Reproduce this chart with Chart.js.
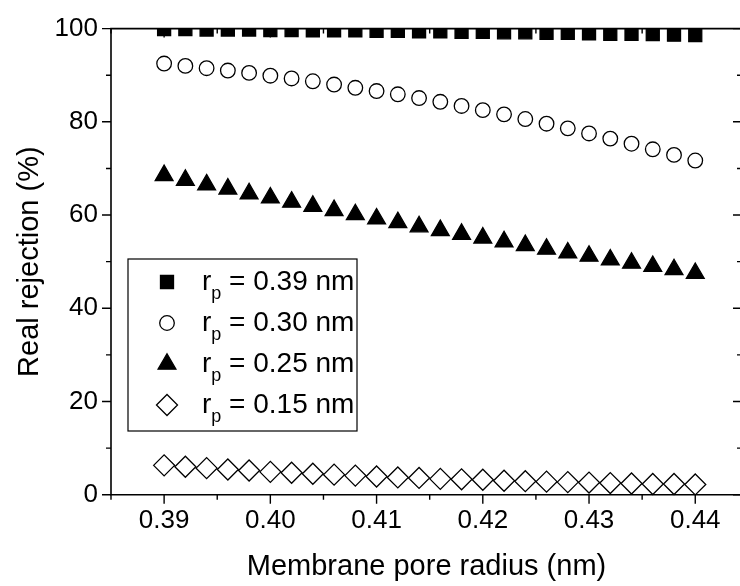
<!DOCTYPE html>
<html>
<head>
<meta charset="utf-8">
<script src="https://cdn.jsdelivr.net/npm/chart.js@4.4.0/dist/chart.umd.min.js"></script>
<style>
	html, body { margin: 0; padding: 0; background: #fff; overflow: hidden; }
	#wrap { width: 746px; height: 586px; }
</style>
</head>
<body>
<div id="wrap"><canvas id="rejChart" width="746" height="586"></canvas></div>
<script>
'use strict';

// membrane pore radius (nm)
const poreRadius = [0.390, 0.392, 0.394, 0.396, 0.398, 0.400, 0.402, 0.404, 0.406, 0.408, 0.410, 0.412, 0.414,
	0.416, 0.418, 0.420, 0.422, 0.424, 0.426, 0.428, 0.430, 0.432, 0.434, 0.436, 0.438, 0.440];

// real rejection (%) for each solute radius
const rej039 = [99.9, 99.9, 99.8, 99.8, 99.8, 99.7, 99.7, 99.6, 99.6, 99.6, 99.5, 99.5, 99.4,
	99.4, 99.3, 99.3, 99.2, 99.2, 99.1, 99.1, 99.0, 98.9, 98.9, 98.8, 98.7, 98.6];
const rej030 = [92.5, 92.0, 91.5, 91.0, 90.5, 89.9, 89.3, 88.7, 88.0, 87.3, 86.6, 85.9, 85.1,
	84.3, 83.4, 82.5, 81.6, 80.6, 79.6, 78.6, 77.5, 76.4, 75.3, 74.1, 72.9, 71.7];
const rej025 = [68.5, 67.5, 66.5, 65.6, 64.6, 63.7, 62.8, 61.9, 61.0, 60.1, 59.2, 58.4, 57.5,
	56.7, 55.9, 55.1, 54.3, 53.5, 52.7, 51.9, 51.2, 50.4, 49.7, 49.0, 48.3, 47.5];
const rej015 = [6.3, 6.0, 5.7, 5.4, 5.2, 4.9, 4.7, 4.5, 4.3, 4.1, 3.9, 3.7, 3.6,
	3.4, 3.3, 3.2, 3.0, 2.9, 2.8, 2.7, 2.6, 2.5, 2.4, 2.3, 2.3, 2.2];

const soluteRadius = ['0.39', '0.30', '0.25', '0.15'];

const xMajorTicks = [0.39, 0.40, 0.41, 0.42, 0.43, 0.44];
const xMinorTicks = [0.385, 0.395, 0.405, 0.415, 0.425, 0.435];
const yMajorTicks = [0, 20, 40, 60, 80, 100];
const yMinorTicks = [10, 30, 50, 70, 90];

const FONT = '"Liberation Sans", Arial, sans-serif';

function toPoints(_values) {
	return poreRadius.map((x, i) => ({ x: x, y: _values[i] }));
}

function makeDataSet(_values, _idx, _style, _radius, _filled) {
	return {
		label: `r_p = ${soluteRadius[_idx]} nm`,
		data: toPoints(_values),
		showLine: false,
		pointStyle: _style,
		pointRadius: _radius,
		pointHoverRadius: _radius,
		pointBorderWidth: 1.3,
		pointBorderColor: '#000',
		pointBackgroundColor: _filled ? '#000' : '#fff',
		clip: { left: 20, top: 0, right: 20, bottom: 20 },
	};
}

// frame with outward ticks on bottom/left and inward ticks on top/right
const axisFrame = {
	id: 'axisFrame',
	beforeDatasetsDraw(chart) {
		const { ctx, chartArea: a, scales: { x, y } } = chart;
		ctx.save();
		ctx.strokeStyle = '#000';
		ctx.lineWidth = 1.6;
		ctx.beginPath();
		ctx.rect(a.left, a.top, a.right - a.left, a.bottom - a.top);
		ctx.stroke();
		ctx.lineWidth = 1.4;
		ctx.beginPath();
		const xTick = (v, len) => {
			const px = x.getPixelForValue(v);
			ctx.moveTo(px, a.bottom); ctx.lineTo(px, a.bottom + len);
			ctx.moveTo(px, a.top); ctx.lineTo(px, a.top + len);
		};
		const yTick = (v, len) => {
			const py = y.getPixelForValue(v);
			ctx.moveTo(a.left, py); ctx.lineTo(a.left - len, py);
			ctx.moveTo(a.right, py); ctx.lineTo(a.right - len, py);
		};
		xMajorTicks.forEach((v) => xTick(v, 9));
		xMinorTicks.forEach((v) => xTick(v, 5));
		yMajorTicks.forEach((v) => yTick(v, 9));
		yMinorTicks.forEach((v) => yTick(v, 5));
		ctx.stroke();
		ctx.restore();
	},
};

// boxed legend with subscripted r_p
const subLegend = {
	id: 'subLegend',
	afterDraw(chart, args, opts) {
		const ctx = chart.ctx;
		ctx.save();
		ctx.strokeStyle = '#000';
		ctx.lineWidth = 1.2;
		ctx.strokeRect(opts.left, opts.top, opts.width, opts.height);
		chart.data.datasets.forEach((ds, i) => {
			const rowY = opts.top + opts.firstRow + i * opts.rowGap;
			ctx.fillStyle = ds.pointBackgroundColor;
			ctx.strokeStyle = ds.pointBorderColor;
			ctx.lineWidth = ds.pointBorderWidth;
			Chart.helpers.drawPoint(ctx, {
				pointStyle: ds.pointStyle,
				radius: ds.pointRadius,
				borderWidth: ds.pointBorderWidth,
				rotation: 0,
			}, opts.markerX, rowY);

			ctx.fillStyle = '#000';
			ctx.textBaseline = 'middle';
			ctx.textAlign = 'left';
			let tx = opts.textX;
			ctx.font = `28px ${FONT}`;
			ctx.fillText('r', tx, rowY);
			tx += ctx.measureText('r').width;
			ctx.font = `18px ${FONT}`;
			ctx.fillText('p', tx, rowY + 12);
			tx += ctx.measureText('p').width;
			ctx.font = `28px ${FONT}`;
			ctx.fillText(` = ${soluteRadius[i]} nm`, tx, rowY);
		});
		ctx.restore();
	},
};

const rejChart = new Chart(document.getElementById('rejChart'), {
	type: 'scatter',
	data: {
		datasets: [
			makeDataSet(rej039, 0, 'rect', 9.2, true),
			makeDataSet(rej030, 1, 'circle', 7.3, false),
			makeDataSet(rej025, 2, 'triangle', 10.3, true),
			makeDataSet(rej015, 3, 'rectRot', 10.5, false),
		],
	},
	options: {
		responsive: false,
		devicePixelRatio: 1,
		animation: false,
		events: [],
		layout: { autoPadding: false, padding: { top: 24, right: 4, left: 0, bottom: 0 } },
		scales: {
			x: {
				type: 'linear',
				min: 0.385,
				max: 0.4444,
				afterBuildTicks(scale) {
					scale.ticks = xMajorTicks.map((v) => ({ value: v }));
				},
				afterFit(scale) {
					scale.height = 91.3;
				},
				grid: { display: false, drawTicks: false, tickLength: 0 },
				border: { display: false },
				ticks: {
					padding: 11,
					color: '#000',
					maxRotation: 0,
					font: { family: FONT, size: 26 },
					callback: (v) => v.toFixed(2),
				},
				title: {
					display: true,
					text: 'Membrane pore radius (nm)',
					color: '#000',
					font: { family: FONT, size: 29 },
					padding: { top: 0, bottom: 2 },
				},
			},
			y: {
				type: 'linear',
				min: 0,
				max: 100,
				afterBuildTicks(scale) {
					scale.ticks = yMajorTicks.map((v) => ({ value: v }));
				},
				afterFit(scale) {
					scale.width = 111;
				},
				grid: { display: false, drawTicks: false, tickLength: 0 },
				border: { display: false },
				ticks: {
					padding: 13,
					color: '#000',
					font: { family: FONT, size: 26 },
				},
				title: {
					display: true,
					text: 'Real rejection (%)',
					color: '#000',
					font: { family: FONT, size: 29 },
					padding: { top: 13, bottom: 0 },
				},
			},
		},
		plugins: {
			legend: { display: false },
			tooltip: { enabled: false },
			subLegend: {
				left: 128, top: 259, width: 229, height: 172,
				markerX: 167, textX: 202, firstRow: 23, rowGap: 41,
			},
		},
	},
	plugins: [axisFrame, subLegend],
});
</script>
</body>
</html>
